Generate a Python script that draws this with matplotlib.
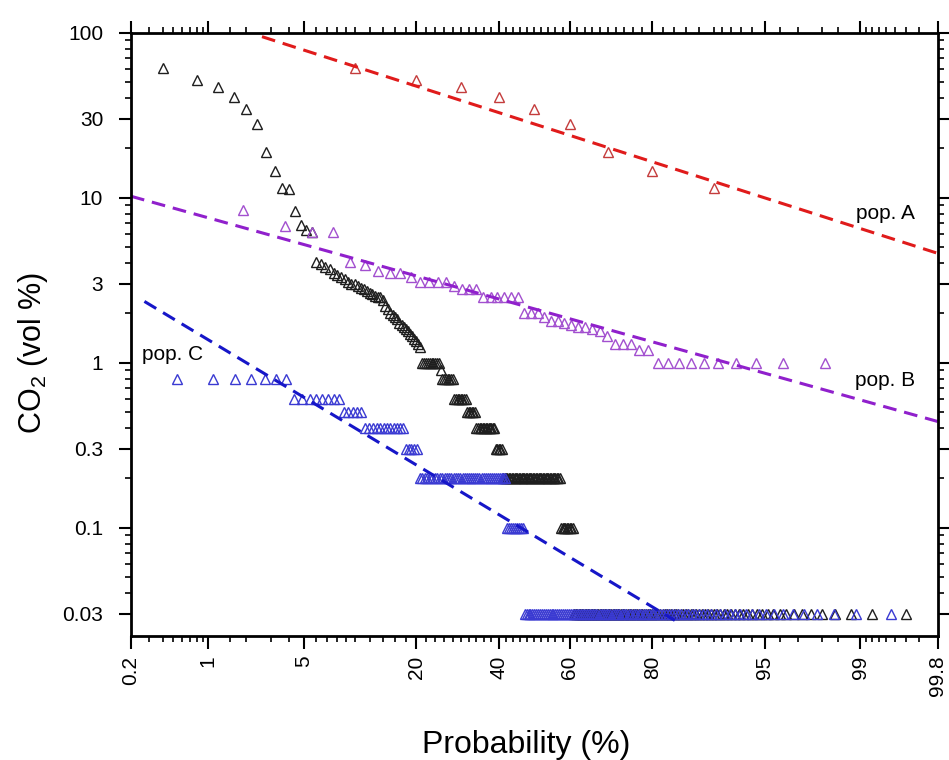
import numpy as np
import matplotlib
matplotlib.use("Agg")
import matplotlib.pyplot as plt
from matplotlib.ticker import FixedLocator, LogLocator, NullFormatter
from statistics import NormalDist


# pop. A (red) - CO2 vol %, ranked high to low
pop_a = [61, 52, 47, 40.5, 34.5, 28, 19, 14.5, 11.5]

# pop. B (purple)
pop_b = [8.4, 6.7, 6.2, 6.2, 4.1, 3.9, 3.6, 3.5, 3.5, 3.3, 3.1, 3.1, 3.1, 3.1,
         2.9, 2.8, 2.8, 2.8, 2.5, 2.5, 2.5, 2.5, 2.5, 2.5, 2.0, 2.0, 2.0, 1.9,
         1.8, 1.8, 1.75, 1.7, 1.65, 1.65, 1.6, 1.55, 1.45, 1.3, 1.3, 1.3, 1.2,
         1.2, 1.0, 1.0, 1.0, 1.0, 1.0, 1.0, 1.0, 1.0, 1.0, 1.0]

# pop. C (blue): repeated low readings as level / count
pop_c_levels = [0.8, 0.6, 0.5, 0.4, 0.3, 0.2, 0.1, 0.03]
pop_c_counts = [7, 8, 5, 12, 5, 40, 9, 97]

# all samples (black)
all_top = [61, 52, 47, 40.5, 34.5, 28, 19, 14.5, 11.5, 11.3, 8.3, 6.8, 6.4, 6.2,
           4.1, 3.95, 3.8, 3.7, 3.5, 3.4, 3.3, 3.2, 3.1, 3.0, 3.0, 2.9, 2.85,
           2.8, 2.7, 2.65, 2.6, 2.55, 2.5, 2.5, 2.4, 2.2, 2.1, 2.0, 1.95, 1.9,
           1.85, 1.75, 1.7, 1.65, 1.6, 1.55, 1.5, 1.45, 1.4, 1.35, 1.3, 1.25]
all_levels = [1.0, 0.9, 0.8, 0.6, 0.5, 0.4, 0.3, 0.2, 0.1, 0.03]
all_counts = [10, 1, 7, 8, 6, 13, 5, 41, 9, 97]

# dashed population fits (probability %, CO2)
fit_a_p = [2.6, 99.8]
fit_a_v = [94.6, 4.6]
fit_b_p = [0.2, 99.8]
fit_b_v = [10.2, 0.44]
fit_c_p = [0.27, 84.2]
fit_c_v = [2.35, 0.0274]

x_major = [0.2, 1, 5, 20, 40, 60, 80, 95, 99, 99.8]
x_major_labels = ["0.2", "1", "5", "20", "40", "60", "80", "95", "99", "99.8"]
x_minor = [0.3, 0.4, 0.5, 0.6, 0.7, 0.8, 0.9, 1.5, 2, 3, 4, 6, 7, 8, 9, 10,
           12, 14, 16, 18, 22, 24, 26, 28, 30, 32, 34, 36, 38, 42, 44, 46, 48,
           50, 52, 54, 56, 58, 62, 64, 66, 68, 70, 72, 74, 76, 78, 82, 84, 86,
           88, 90, 91, 92, 93, 94, 96, 97, 98, 98.5, 99.1, 99.2, 99.3, 99.4,
           99.5, 99.6, 99.7]
y_major = [0.03, 0.1, 0.3, 1, 3, 10, 30, 100]
y_major_labels = ["0.03", "0.1", "0.3", "1", "3", "10", "30", "100"]


_nd = NormalDist()


def _ppf(v):
    if not np.isfinite(v):
        return np.nan
    v = min(max(v, 1e-7), 100 - 1e-7)
    return _nd.inv_cdf(v / 100.0)


def _cdf(v):
    if not np.isfinite(v):
        return np.nan
    return 100.0 * _nd.cdf(v)


def prob_forward(p):
    return np.vectorize(_ppf, otypes=[float])(np.asarray(p, dtype=float))


def prob_inverse(z):
    return np.vectorize(_cdf, otypes=[float])(np.asarray(z, dtype=float))


def plotting_positions(n):
    # exceedance plotting position i/(n+1), in percent
    return 100.0 * np.arange(1, n + 1) / (n + 1)


def main():

    plt.rcParams["font.family"] = ["Liberation Sans", "DejaVu Sans"]
    plt.rcParams["mathtext.fontset"] = "custom"
    plt.rcParams["mathtext.rm"] = "Liberation Sans"
    plt.rcParams["mathtext.default"] = "regular"

    fig = plt.figure(figsize=(9.49, 7.6), dpi=100)
    ax = fig.add_axes([0.138, 0.163, 0.850, 0.794])

    ax.set_xscale("function", functions=(prob_forward, prob_inverse))
    ax.set_yscale("log")

    all_vals = np.concatenate([all_top, np.repeat(all_levels, all_counts)])
    pop_c = np.repeat(pop_c_levels, pop_c_counts)

    mk = dict(marker="^", linestyle="none", markersize=7.5, mfc="none", mew=1.0)

    ax.plot(plotting_positions(len(all_vals)), all_vals, color="#1e1e1e", **mk)
    ax.plot(plotting_positions(len(pop_c)), pop_c, color="#3a3ad2", **mk)
    ax.plot(plotting_positions(len(pop_b)), pop_b, color="#a24fcf", **mk)
    ax.plot(plotting_positions(len(pop_a)), pop_a, color="#c43c3c", **mk)

    ax.plot(fit_a_p, fit_a_v, color="#e01b1b", lw=2.2, dashes=(4.5, 2.6))
    ax.plot(fit_b_p, fit_b_v, color="#9020cc", lw=2.2, dashes=(4.5, 2.6))
    ax.plot(fit_c_p, fit_c_v, color="#1616c8", lw=2.2, dashes=(4.5, 2.6))

    ax.text(0.935, 0.701, "pop. A", transform=ax.transAxes, fontsize=15,
            ha="center", va="center")
    ax.text(0.935, 0.423, "pop. B", transform=ax.transAxes, fontsize=15,
            ha="center", va="center")
    ax.text(0.051, 0.466, "pop. C", transform=ax.transAxes, fontsize=15,
            ha="center", va="center")

    ax.set_xlim(0.2, 99.8)
    ax.set_ylim(0.022, 100)

    ax.xaxis.set_major_locator(FixedLocator(x_major))
    ax.xaxis.set_minor_locator(FixedLocator(x_minor))
    ax.set_xticklabels(x_major_labels, rotation=90, fontsize=15)
    ax.xaxis.set_minor_formatter(NullFormatter())

    ax.yaxis.set_major_locator(FixedLocator(y_major))
    ax.yaxis.set_minor_locator(LogLocator(base=10, subs=np.arange(2, 10)))
    ax.set_yticklabels(y_major_labels, fontsize=15)
    ax.yaxis.set_minor_formatter(NullFormatter())

    ax.tick_params(which="both", direction="out", top=True, right=True,
                   labeltop=False, labelright=False)
    ax.tick_params(which="major", length=9, width=1.5, pad=5)
    ax.tick_params(which="minor", length=4.5, width=1.2)
    ax.tick_params(axis="y", which="major", pad=11)
    for s in ax.spines.values():
        s.set_linewidth(2)

    ax.set_xlabel("Probability (%)", fontsize=23, va="center")
    ax.set_ylabel("CO$_2$ (vol %)", fontsize=22)
    ax.xaxis.set_label_coords(0.49, -0.18)
    ax.yaxis.set_label_coords(-0.1, 0.47)

    fig.savefig("out.png", dpi=100)


if __name__ == "__main__":
    main()
